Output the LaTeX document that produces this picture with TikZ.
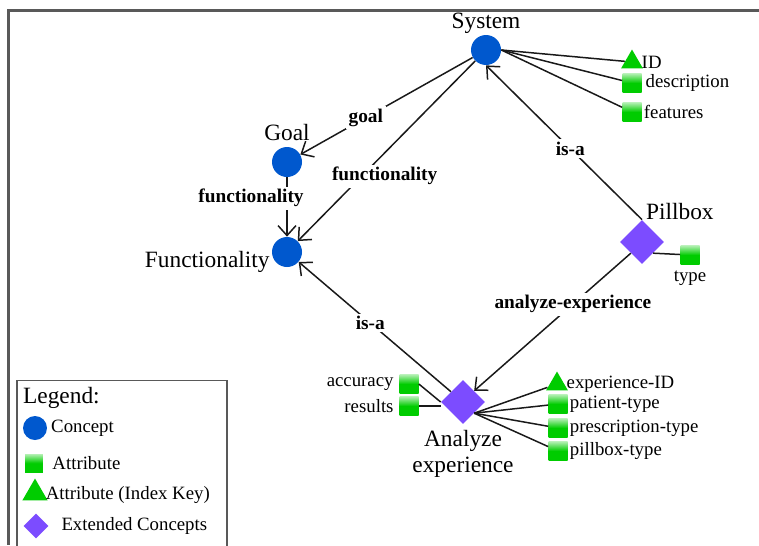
\documentclass[tikz,border=0pt]{standalone}
\usepackage{fontspec}
\setmainfont{Liberation Serif}
\usetikzlibrary{positioning, arrows.meta, shapes.geometric}

\definecolor{conceptblue}{RGB}{0,88,206}
\definecolor{attrgreen}{RGB}{0,204,0}
\definecolor{extpurple}{RGB}{124,76,255}

\begin{document}
\begin{tikzpicture}[
  x=0.02cm, y=-0.02cm,
  concept/.style={circle, fill=conceptblue, minimum size=0.6cm, inner sep=0pt},
  attr/.style={rectangle, minimum size=0.38cm, inner sep=0pt,
               top color=attrgreen!30!white, bottom color=attrgreen,
               middle color=attrgreen},
  idkey/.style={regular polygon, regular polygon sides=3, fill=attrgreen,
                minimum size=0.5cm, inner sep=0pt},
  ext/.style={diamond, fill=extpurple, minimum size=0.88cm, inner sep=0pt},
  big/.style={font=\fontsize{13.3}{15}\selectfont, text depth=0.25em, inner sep=1pt},
  txt/.style={font=\fontsize{10.7}{12.5}\selectfont, inner sep=1pt},
  lbl/.style={font=\fontsize{11}{13}\selectfont\bfseries, fill=white, inner sep=1.5pt},
  lnk/.style={line width=0.85pt, draw=black!90},
  arr/.style={lnk, -{Straight Barb[length=2mm, width=3.6mm]}},
  frame/.style={draw=black!65, line width=1.4pt}
]
  \useasboundingbox (0,0) rectangle (759,545);
  \draw[frame] (759,10.7) -- (8.7,10.7) -- (8.7,545);

  % concepts
  \node[concept, label={[big]above:System}] (sys)  at (486,50)  {};
  \node[concept, label={[big]above:Goal}]   (goal) at (287,162) {};
  \node[concept, label={[big, yshift=-0.2cm]left:Functionality}] (func) at (287,252) {};
  \node[ext, label={[big, anchor=base west, xshift=0.04cm]north:Pillbox}] (pill) at (642,242) {};
  \node[ext, label={[big, align=center, label distance=2pt]below:Analyze\\experience}] (anexp) at (463,402) {};

  % attributes
  \node[idkey, label={[txt]right:ID}]          (id)    at (632,62)  {};
  \node[attr,  label={[txt, label distance=1pt]right:description}] (desc)  at (632,83)  {};
  \node[attr,  label={[txt]right:features}]    (feat)  at (632,112) {};
  \node[attr,  label={[txt, label distance=2pt]below:type}] (ptype) at (690,255) {};
  \node[attr,  label={[txt, label distance=2pt]left:accuracy}] (acc) at (409,384) {};
  \node[attr,  label={[txt, label distance=2pt]left:results}]  (res) at (409,406) {};
  \node[idkey, label={[txt]right:experience-ID}]     (expid) at (557,384) {};
  \node[attr,  label={[txt]right:patient-type}]      (pat)   at (558,404) {};
  \node[attr,  label={[txt]right:prescription-type}] (presc) at (558,428) {};
  \node[attr,  label={[txt]right:pillbox-type}]      (pbt)   at (558,451) {};

  % relations
  \draw[arr] (sys) -- node[lbl, pos=0.62] {goal} (goal);
  \draw[arr] (sys) -- node[lbl, pos=0.64, xshift=0.46cm] {functionality} (func);
  \draw[arr] (goal) -- node[lbl, pos=0.35, xshift=-0.72cm] {functionality} (func);
  \draw[arr] (pill.north) -- node[lbl, pos=0.46] {is-a} (sys.south);
  \draw[arr] (pill.south west) -- node[lbl, pos=0.37] {analyze-experience} (anexp.north east);
  \draw[arr] (anexp) -- node[lbl, pos=0.53] {is-a} (func);

  % attribute links
  \foreach \a in {id, desc, feat} \draw[lnk] (sys.east) -- (\a);
  \draw[lnk] (pill.south east) -- (ptype);
  \foreach \a in {expid, pat, presc, pbt} \draw[lnk] (anexp.south east) -- (\a);
  \draw[lnk] (acc.east) -- (anexp.west);
  \draw[lnk] (res.east) -- (res.east -| anexp.west);

  % legend
  \draw[frame, line width=1.1pt] (17,380.5) rectangle (227,560);
  \node[big, anchor=base west] (lgd) at (21,403) {Legend:};
  \node[concept, minimum size=0.48cm, label={[txt, label distance=1pt]right:Concept}] (lc) at (35,428) {};
  \node[attr, minimum size=0.36cm, label={[txt, label distance=4pt]right:Attribute}] (la) at (34,463) {};
  \node[idkey, minimum size=0.58cm, label={[txt, yshift=-0.04cm]right:Attribute (Index Key)}] (lk) at (35,493) {};
  \node[ext, minimum size=0.5cm, label={[txt, label distance=6pt]right:Extended Concepts}] (le) at (36,526) {};
\end{tikzpicture}
\end{document}
